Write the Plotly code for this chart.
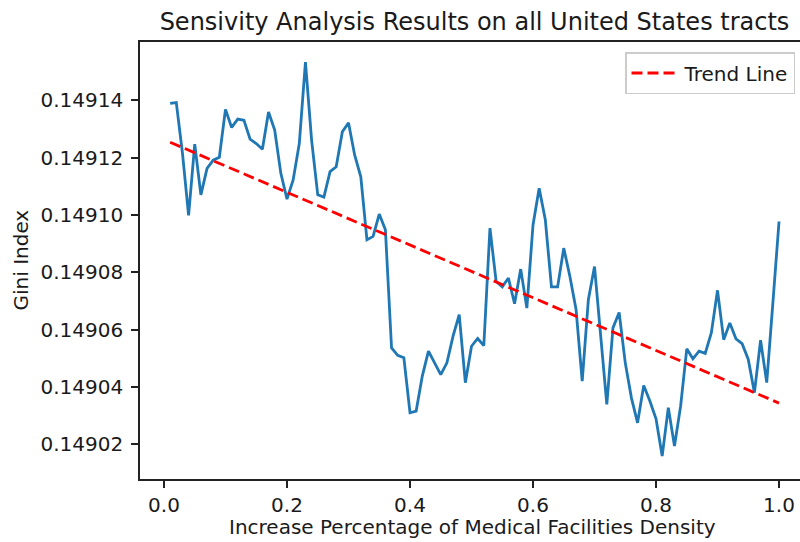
import numpy as np
import plotly.graph_objects as go

# Increase percentage of medical facilities density (0.01 .. 1.00)
increase_pct = [round(0.01 * k, 2) for k in range(1, 101)]

# Gini index for each scenario
gini_index = [
    0.1491389, 0.1491392, 0.1491216, 0.1490998, 0.1491247,
    0.1491070, 0.1491162, 0.1491191, 0.1491201, 0.1491368,
    0.1491305, 0.1491334, 0.1491330, 0.1491264, 0.1491249,
    0.1491229, 0.1491359, 0.1491296, 0.1491145, 0.1491055,
    0.1491122, 0.1491249, 0.1491533, 0.1491261, 0.1491070,
    0.1491062, 0.1491151, 0.1491168, 0.1491290, 0.1491321,
    0.1491209, 0.1491133, 0.1490913, 0.1490925, 0.1491003,
    0.1490948, 0.1490536, 0.1490510, 0.1490502, 0.1490310,
    0.1490316, 0.1490438, 0.1490525, 0.1490484, 0.1490443,
    0.1490484, 0.1490577, 0.1490652, 0.1490415, 0.1490542,
    0.1490569, 0.1490544, 0.1490954, 0.1490768, 0.1490749,
    0.1490780, 0.1490690, 0.1490811, 0.1490675, 0.1490965,
    0.1491093, 0.1490983, 0.1490749, 0.1490749, 0.1490884,
    0.1490785, 0.1490670, 0.1490420, 0.1490704, 0.1490820,
    0.1490577, 0.1490339, 0.1490606, 0.1490660, 0.1490484,
    0.1490362, 0.1490275, 0.1490405, 0.1490351, 0.1490289,
    0.1490159, 0.1490328, 0.1490194, 0.1490333, 0.1490533,
    0.1490498, 0.1490525, 0.1490517, 0.1490589, 0.1490737,
    0.1490565, 0.1490623, 0.1490568, 0.1490551, 0.1490496,
    0.1490380, 0.1490563, 0.1490415, 0.1490693, 0.1490977,
]

x_tick_values = [0.0, 0.2, 0.4, 0.6, 0.8, 1.0]
y_tick_values = [0.14902, 0.14904, 0.14906, 0.14908, 0.14910, 0.14912, 0.14914]

# Least-squares linear trend
x_arr = np.array(increase_pct)
y_arr = np.array(gini_index)
slope, intercept = np.polyfit(x_arr, y_arr, 1)
trend = slope * x_arr + intercept

FONT = "DejaVu Sans"
TEXT = "#1a1a1a"
W, H = 800, 542
L, R, T, B = 140, 0, 42, 63
plot_w = W - L - R
plot_h = H - T - B

fig = go.Figure()
fig.add_trace(go.Scatter(
    x=increase_pct, y=gini_index, mode="lines",
    line=dict(color="#1f77b4", width=2.8),
    showlegend=False, name="Gini Index",
))
fig.add_trace(go.Scatter(
    x=increase_pct, y=trend, mode="lines",
    line=dict(color="#ff0000", width=2.8, dash="11px,5px"),
    name="Trend Line",
))

fig.update_layout(
    width=W, height=H,
    margin=dict(l=L, r=R, t=T, b=B, pad=0),
    plot_bgcolor="white", paper_bgcolor="white",
    font=dict(family=FONT, size=20, color=TEXT),
    title=dict(
        text="Sensivity Analysis Results on all United States tracts",
        font=dict(family=FONT, size=24, color=TEXT),
        x=474.5 / W, xanchor="center", xref="container",
        y=1 - 22 / H, yanchor="middle", yref="container",
    ),
    showlegend=True,
    legend=dict(
        x=(625 - L) / plot_w, xanchor="left",
        y=(H - B - 52) / plot_h, yanchor="top",
        bgcolor="rgba(255,255,255,0.8)",
        bordercolor="#cccccc", borderwidth=1.5,
        itemwidth=48,
        font=dict(family=FONT, size=20, color=TEXT),
    ),
    xaxis=dict(
        range=[-0.0390, 1.0341],
        tickvals=x_tick_values, tickformat=".1f",
        showgrid=False, zeroline=False,
        showline=True, linecolor="#222222", linewidth=1.6, mirror=True,
        ticks="outside", ticklen=7, tickwidth=1.6, tickcolor="#222222",
        tickfont=dict(family=FONT, size=20, color=TEXT),
    ),
    yaxis=dict(
        range=[0.1490079, 0.1491603],
        tickvals=y_tick_values, tickformat=".5f",
        showgrid=False, zeroline=False,
        showline=True, linecolor="#222222", linewidth=1.6, mirror=False,
        ticks="outside", ticklen=7, tickwidth=1.6, tickcolor="#222222",
        ticklabelstandoff=4,
        tickfont=dict(family=FONT, size=20, color=TEXT),
    ),
    annotations=[
        dict(
            text="Increase Percentage of Medical Facilities Density",
            xref="paper", yref="paper",
            x=(472 - L) / plot_w, y=-(527 - (H - B)) / plot_h,
            xanchor="center", yanchor="middle", showarrow=False,
            font=dict(family=FONT, size=20, color=TEXT),
        ),
        dict(
            text="Gini Index",
            xref="paper", yref="paper",
            x=-(L - 20) / plot_w, y=0.5, textangle=-90,
            xanchor="center", yanchor="middle", showarrow=False,
            font=dict(family=FONT, size=20, color=TEXT),
        ),
    ],
)

fig.write_html("out.html")
